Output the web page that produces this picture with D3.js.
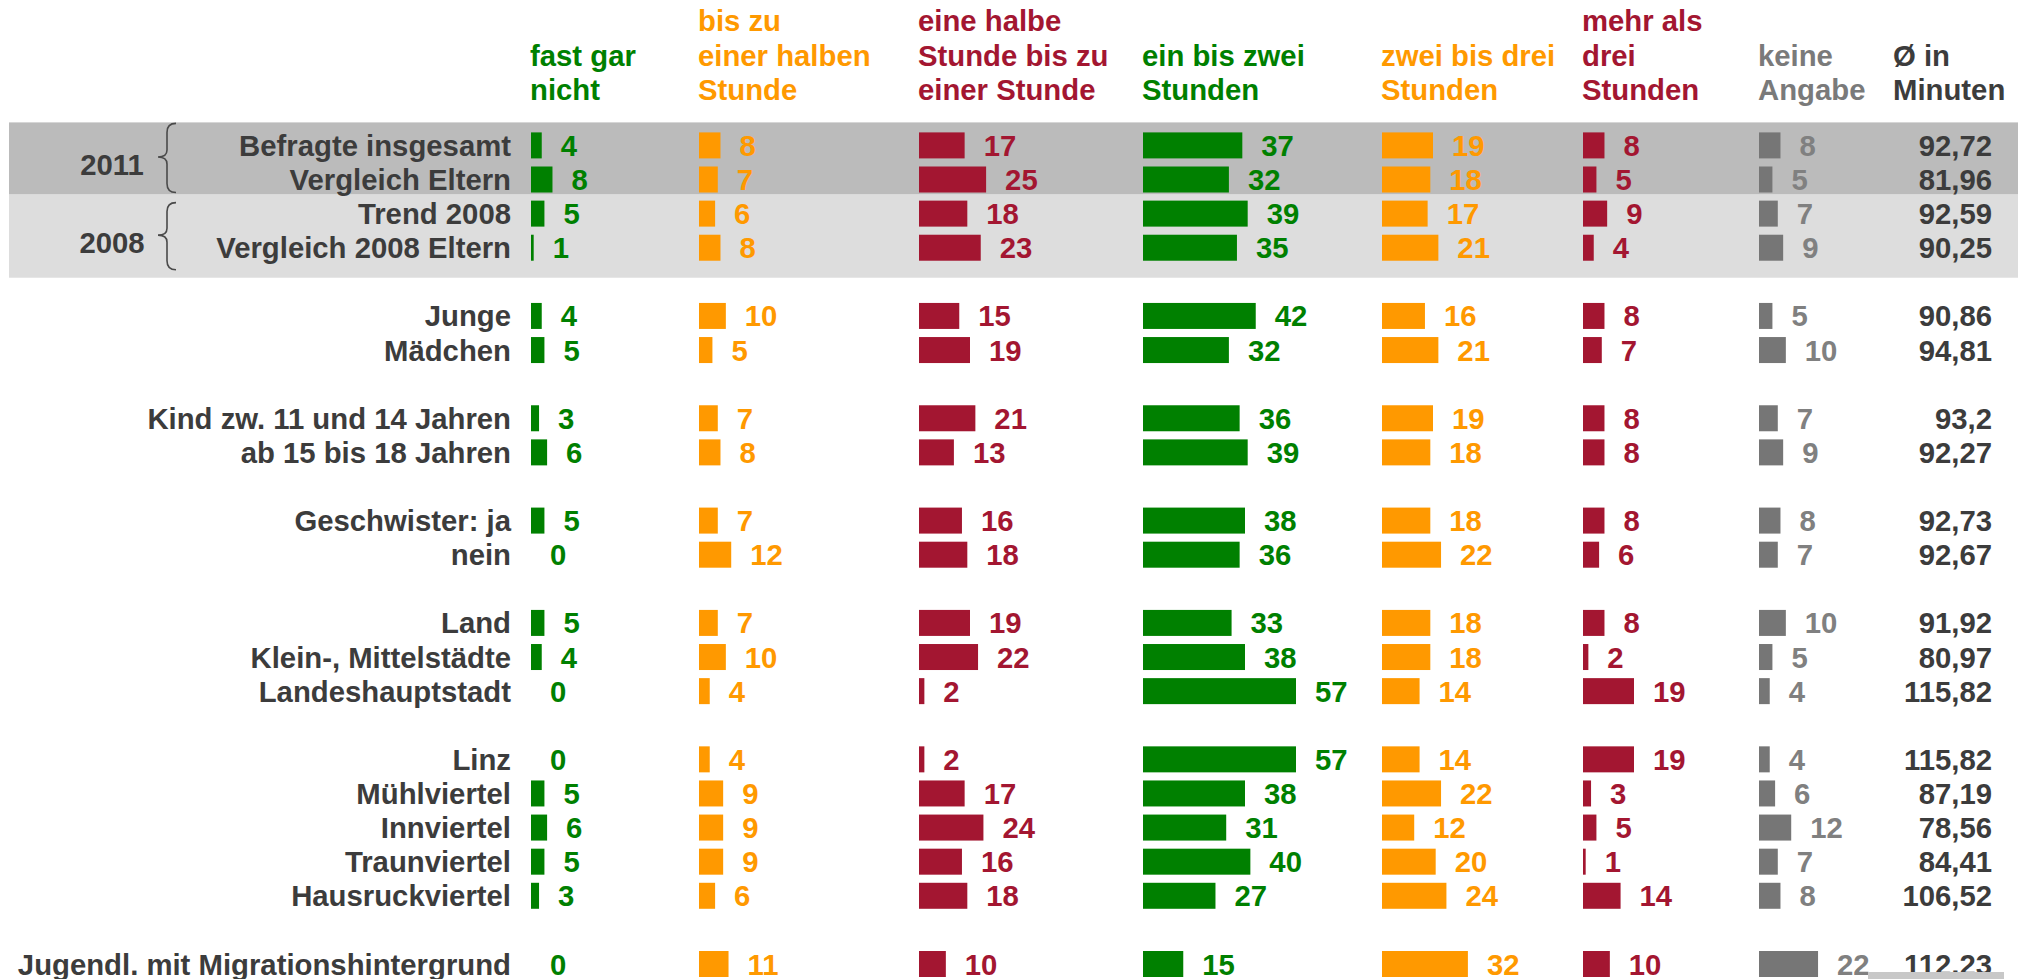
<!DOCTYPE html>
<html>
<head>
<meta charset="utf-8">
<script src="https://cdn.jsdelivr.net/npm/d3@7"></script>
<style>
  body { margin: 0; background: #fff; }
  svg text { font-family: "Liberation Sans", Arial, sans-serif; font-weight: bold; }
</style>
</head>
<body>
<div id="chart"></div>
<script>
// rows, grouped (one empty row between groups)
var groupSizes = [4, 2, 2, 2, 3, 5, 1];
var rowLabels = ["Befragte insgesamt", "Vergleich Eltern", "Trend 2008", "Vergleich 2008 Eltern",
  "Junge", "Mädchen",
  "Kind zw. 11 und 14 Jahren", "ab 15 bis 18 Jahren",
  "Geschwister: ja", "nein",
  "Land", "Klein-, Mittelstädte", "Landeshauptstadt",
  "Linz", "Mühlviertel", "Innviertel", "Traunviertel", "Hausruckviertel",
  "Jugendl. mit Migrationshintergrund"];

var fastGarNicht = [4, 8, 5, 1, 4, 5, 3, 6, 5, 0, 5, 4, 0, 0, 5, 6, 5, 3, 0];
var bisHalbeStunde = [8, 7, 6, 8, 10, 5, 7, 8, 7, 12, 7, 10, 4, 4, 9, 9, 9, 6, 11];
var halbeBisEineStunde = [17, 25, 18, 23, 15, 19, 21, 13, 16, 18, 19, 22, 2, 2, 17, 24, 16, 18, 10];
var einBisZweiStunden = [37, 32, 39, 35, 42, 32, 36, 39, 38, 36, 33, 38, 57, 57, 38, 31, 40, 27, 15];
var zweiBisDreiStunden = [19, 18, 17, 21, 16, 21, 19, 18, 18, 22, 18, 18, 14, 14, 22, 12, 20, 24, 32];
var mehrAlsDrei = [8, 5, 9, 4, 8, 7, 8, 8, 8, 6, 8, 2, 19, 19, 3, 5, 1, 14, 10];
var keineAngabe = [8, 5, 7, 9, 5, 10, 7, 9, 8, 7, 10, 5, 4, 4, 6, 12, 7, 8, 22];
var avgMinutes = ["92,72", "81,96", "92,59", "90,25", "90,86", "94,81", "93,2", "92,27", "92,73", "92,67",
  "91,92", "80,97", "115,82", "115,82", "87,19", "78,56", "84,41", "106,52", "112,23"];

var headers = [
  ["fast gar", "nicht"],
  ["bis zu", "einer halben", "Stunde"],
  ["eine halbe", "Stunde bis zu", "einer Stunde"],
  ["ein bis zwei", "Stunden"],
  ["zwei bis drei", "Stunden"],
  ["mehr als", "drei", "Stunden"],
  ["keine", "Angabe"],
  ["Ø in", "Minuten"]
];
var years = ["2011", "2008"];

var green = "#008000", orange = "#ff9900", red = "#a31631", gray = "#767676", dark = "#3c3c3c";
var series = [
  {values: fastGarNicht, color: green, text: green},
  {values: bisHalbeStunde, color: orange, text: orange},
  {values: halbeBisEineStunde, color: red, text: red},
  {values: einBisZweiStunden, color: green, text: green},
  {values: zweiBisDreiStunden, color: orange, text: orange},
  {values: mehrAlsDrei, color: red, text: red},
  {values: keineAngabe, color: gray, text: "#808080"}
];
var headerColors = [green, orange, red, green, orange, red, "#7a7a7a", dark];

var W = 2018, H = 979;
var colX = [531, 699, 919, 1143, 1382, 1583, 1759];
var avgRight = 1992, avgLeft = 1893;
var fs = 29.3;

// slot of each row
var slots = [], s = 0;
groupSizes.forEach(function(n){
  for (var k = 0; k < n; k++) slots.push(s++);
  s++;
});

var y = d3.scaleLinear().domain([0, 24]).range([145.4, 964]);
var x = d3.scaleLinear().domain([0, 57]).range([0, 153]);
var barH = 26;

var svg = d3.select("#chart").append("svg")
  .attr("width", W).attr("height", H);

// bands behind the trend rows
var bandMid = (y(1) + y(2)) / 2 - 2;
svg.append("rect").attr("x", 9).attr("width", W - 9)
  .attr("y", y(0) - 23).attr("height", bandMid - (y(0) - 23))
  .attr("fill", "#bbbbbb");
svg.append("rect").attr("x", 9).attr("width", W - 9)
  .attr("y", bandMid).attr("height", y(3) + 30 - bandMid)
  .attr("fill", "#dddddd");

// headers
var hdrX = colX.map(function(c){ return c - 1; }).concat([avgLeft]);
headers.forEach(function(lines, i){
  var t = svg.append("text")
    .attr("x", hdrX[i])
    .attr("font-size", fs)
    .attr("fill", headerColors[i]);
  lines.forEach(function(l, j){
    t.append("tspan").attr("x", hdrX[i])
      .attr("y", 100 - (lines.length - 1 - j) * 34.5)
      .text(l);
  });
});

// row labels
svg.append("g").selectAll("text")
  .data(rowLabels)
  .join("text")
  .attr("x", 511)
  .attr("y", function(d, i){ return y(slots[i]); })
  .attr("dy", "0.36em")
  .attr("text-anchor", "end")
  .attr("font-size", fs)
  .attr("fill", dark)
  .text(function(d){ return d; });

// bars + values
series.forEach(function(sr, c){
  var g = svg.append("g").attr("transform", "translate(" + colX[c] + ",0)");
  g.selectAll("rect")
    .data(sr.values)
    .join("rect")
    .attr("x", 0)
    .attr("y", function(d, i){ return y(slots[i]) - barH / 2; })
    .attr("width", function(d){ return x(d); })
    .attr("height", barH)
    .attr("fill", sr.color);
  g.selectAll("text")
    .data(sr.values)
    .join("text")
    .attr("x", function(d){ return x(d) + 19; })
    .attr("y", function(d, i){ return y(slots[i]); })
    .attr("dy", "0.36em")
    .attr("font-size", fs)
    .attr("fill", sr.text)
    .text(function(d){ return d; });
});

// averages
svg.append("g").selectAll("text")
  .data(avgMinutes)
  .join("text")
  .attr("x", avgRight)
  .attr("y", function(d, i){ return y(slots[i]); })
  .attr("dy", "0.36em")
  .attr("text-anchor", "end")
  .attr("font-size", fs)
  .attr("fill", dark)
  .text(function(d){ return d; });

// braces and years
function brace(bx, y0, y1){
  var ym = (y0 + y1) / 2 - 1;
  return "M" + (bx + 9) + "," + y0 +
    " Q" + bx + "," + y0 + " " + bx + "," + (y0 + 9) +
    " L" + bx + "," + (ym - 7) +
    " Q" + bx + "," + ym + " " + (bx - 9) + "," + ym +
    " Q" + bx + "," + ym + " " + bx + "," + (ym + 7) +
    " L" + bx + "," + (y1 - 9) +
    " Q" + bx + "," + y1 + " " + (bx + 9) + "," + y1;
}
var braceSpans = [[y(0) - 22, y(1) + 13], [y(2) - 11, y(3) + 22]];
braceSpans.forEach(function(sp, i){
  svg.append("path")
    .attr("d", brace(167, sp[0], sp[1]))
    .attr("fill", "none")
    .attr("stroke", "#4a4a4a")
    .attr("stroke-width", 1.6);
  svg.append("text")
    .attr("x", 112)
    .attr("y", (sp[0] + sp[1]) / 2 + 6)
    .attr("dy", "0.36em")
    .attr("text-anchor", "middle")
    .attr("font-size", fs)
    .attr("fill", dark)
    .text(years[i]);
});

// little grey strip bottom right
svg.append("rect").attr("x", 1868).attr("y", 972).attr("width", 136).attr("height", 7).attr("fill", "#c8c8c8");
</script>
</body>
</html>
